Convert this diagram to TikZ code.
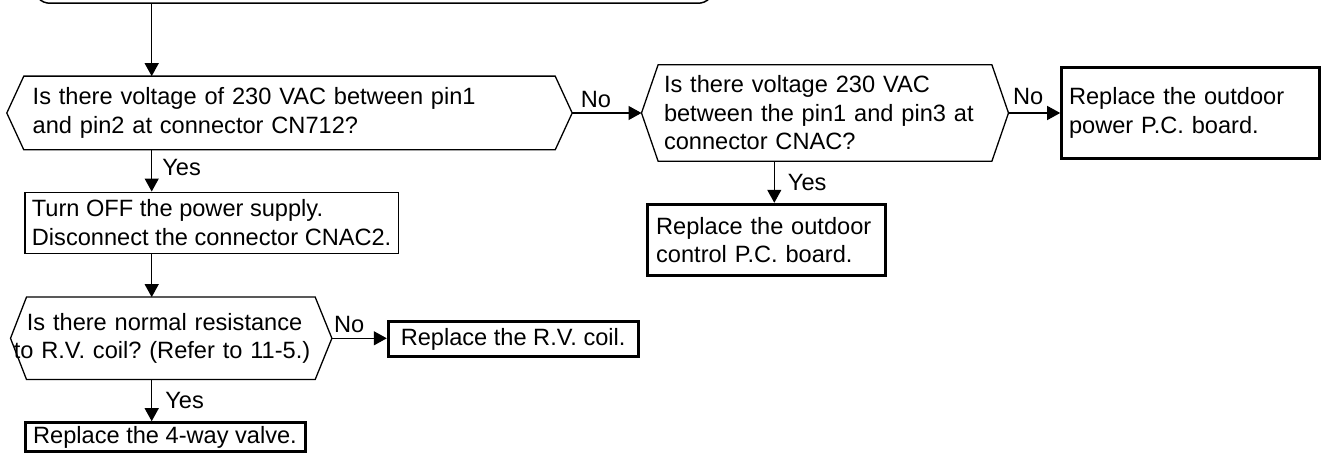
\documentclass[tikz,border=0pt]{standalone}
\usepackage{fontspec}
\setmainfont{Liberation Sans}
\usetikzlibrary{arrows.meta}
\begin{document}
\frenchspacing
\begin{tikzpicture}[x=1pt,y=-1pt,
  every node/.style={font=\fontsize{23.6}{28.5}\selectfont\frenchspacing, inner sep=0pt},
  conn/.style={line width=1.3pt,-{Triangle[length=13pt,width=14pt]}},
  hexa/.style={line width=1.3pt},
  inner/.style={rectangle, align=left},
  procbox/.style={draw, line width=1.5pt, rectangle, align=left},
  endbox/.style={draw, line width=3pt, rectangle, align=left},
  lbl/.style={inner sep=0pt}]
\useasboundingbox (0,0) rectangle (1326,462);
\fill[white] (0,0) rectangle (1326,462);
\clip (0,0) rectangle (1326,462);

% start box (cut off by the top edge)
\node[draw, line width=1.5pt, rounded corners=16pt, minimum width=680pt, minimum height=60pt, anchor=south] (start) at (374,4) {};

\coordinate (ax1) at (151.7,0);
\coordinate (ax2) at (774.3,0);

% decision 1
\node[inner, minimum width=531pt, minimum height=73.3pt, text width=513.6pt] (d1) at (289.5,113)
  {\mbox{Is there voltage of 230 VAC between pin1}\\\mbox{and pin2 at connector CN712?}};
\draw[hexa] (d1.north west) -- (d1.north east) -- ([xshift=17pt]d1.east) -- (d1.south east)
  -- (d1.south west) -- ([xshift=-17pt]d1.west) -- cycle;

% decision 2
\node[inner, minimum width=333.4pt, minimum height=96pt, text width=322pt] (d2) at (825,113)
  {\mbox{Is there voltage 230 VAC}\\\mbox{between the pin1 and pin3 at}\\\mbox{connector CNAC?}};
\draw[hexa] (d2.north west) -- (d2.north east) -- ([xshift=16.6pt]d2.east) -- (d2.south east)
  -- (d2.south west) -- ([xshift=-16.6pt]d2.west) -- cycle;

% outdoor power box
\node[endbox, minimum width=257.6pt, minimum height=91.7pt, text width=243pt] (pwr) at (1190.5,113)
  {\mbox{Replace the outdoor}\\\mbox{power P.C. board.}};

% outdoor control box
\node[endbox, minimum width=237.7pt, minimum height=71.7pt, text width=220pt] (ctl) at (766.15,240.15)
  {\mbox{Replace the outdoor}\\\mbox{control P.C. board.}};

% process box
\node[procbox, minimum width=373.3pt, minimum height=61pt] (proc) at (211.65,222.8)
  {Turn OFF the power supply.\\Disconnect the connector CNAC2.};

% decision 3
\node[inner, minimum width=288.3pt, minimum height=82pt, text width=288pt] (d3) at (170.85,338.3)
  {\mbox{Is there normal resistance}\\\hspace*{-13pt}\mbox{to R.V. coil? (Refer to 11-5.)}};
\draw[hexa] (d3.north west) -- (d3.north east) -- ([xshift=16.7pt]d3.east) -- (d3.south east)
  -- (d3.south west) -- ([xshift=-16pt]d3.west) -- cycle;

% R.V. coil box
\node[endbox, minimum width=249.7pt, minimum height=35pt] (rv) at (513.15,339.5) {Replace the R.V. coil.};

% 4-way valve box
\node[endbox, minimum width=280pt, minimum height=29pt] (valve) at (165,437.2) {Replace the 4-way valve.};

% connectors
\draw[conn] (start.south -| ax1) -- (d1.north -| ax1);
\draw[conn] ([xshift=17pt]d1.east) -- node[lbl, pos=0, anchor=south west, xshift=8pt, yshift=4.5pt] {No} ([xshift=-16.6pt]d2.west);
\draw[conn] ([xshift=16.6pt]d2.east) -- node[lbl, pos=0, anchor=south west, xshift=4pt, yshift=7.6pt] {No} (d2.east -| pwr.west);
\draw[conn] (d2.south -| ax2) -- node[lbl, anchor=west, xshift=13pt] {Yes} (ctl.north -| ax2);
\draw[conn] (d1.south -| ax1) -- node[lbl, pos=0.43, anchor=west, xshift=10pt] {Yes} (proc.north -| ax1);
\draw[conn] (proc.south -| ax1) -- (d3.north -| ax1);
\draw[conn] ([xshift=16.7pt]d3.east) -- node[lbl, pos=0, anchor=south west, xshift=1.5pt, yshift=5.4pt] {No} (d3.east -| rv.west);
\draw[conn] (d3.south -| ax1) -- node[lbl, anchor=west, xshift=13pt] {Yes} (valve.north -| ax1);
\end{tikzpicture}
\end{document}
